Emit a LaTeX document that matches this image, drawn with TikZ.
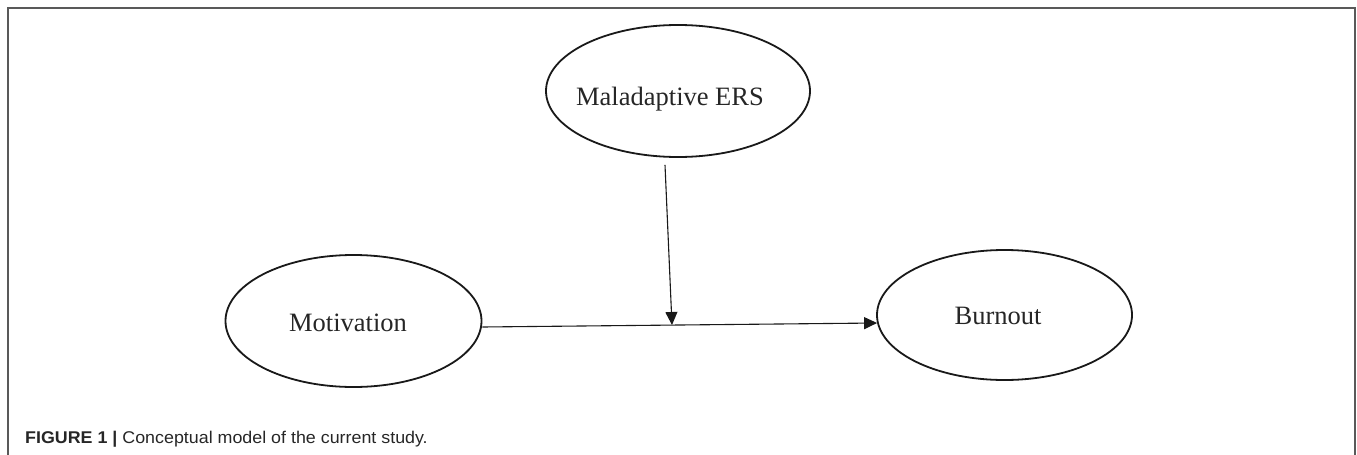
\documentclass[tikz,border=0pt]{standalone}
\usepackage{fontspec}
\setmainfont{Liberation Serif}
\setsansfont{Liberation Sans}
\usetikzlibrary{shapes.geometric,arrows.meta}
\newcommand{\placetext}[3]{\smash{\makebox[0pt]{\kern#1\raisebox{#2}{#3}}}}
\begin{document}
\begin{tikzpicture}[x=1pt,y=-1pt,
  latent/.style={draw=black!90,line width=1.8pt,ellipse,inner sep=0pt,font=\fontsize{26.5}{30}\selectfont,text=black!85},
  conn/.style={draw=black!90,line width=1.1pt,-{Triangle[length=13pt,width=12pt]}},
  frameline/.style={draw=black!65,line width=1.6pt}]
\useasboundingbox (0,0) rectangle (1357,455);
\draw[frameline] (8,455) -- (8,8) -- (1355,8) -- (1355,455);
\node[latent,minimum width=264pt,minimum height=132pt] (ers) at (678,91) {\placetext{-16pt}{-14pt}{Maladaptive ERS}};
\node[latent,minimum width=256pt,minimum height=132pt] (mot) at (353.5,321) {\placetext{-11pt}{-10pt}{Motivation}};
\node[latent,minimum width=255pt,minimum height=130pt] (bur) at (1004.5,315) {\placetext{-13pt}{-9pt}{Burnout}};
\coordinate (mid) at (672,325);
\draw[conn] ([yshift=-6pt]mot.east) -- ([yshift=-8pt,xshift=1pt]bur.west);
\draw[conn] ([xshift=-13pt,yshift=-7pt]ers.south) -- (mid);
\node[anchor=base west,inner sep=0pt,font=\sffamily\fontsize{17}{18}\selectfont,text=black!85] (cap) at (25,443) {\scalebox{1.05}[1]{\textbf{FIGURE 1 |} Conceptual model of the current study.}};
\end{tikzpicture}
\end{document}
